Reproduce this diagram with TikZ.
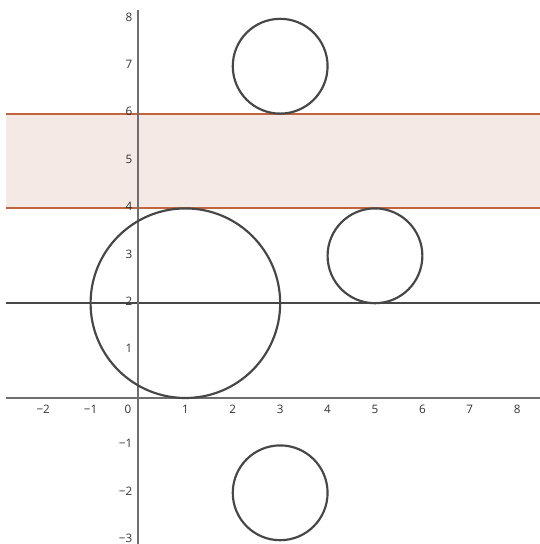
\documentclass[tikz,border=0pt]{standalone}
\usepackage{fontspec}
\setmainfont{Open Sans}
\definecolor{circ}{HTML}{474747}
\definecolor{axisc}{HTML}{6E6E6E}
\definecolor{band}{HTML}{F4E9E4}
\definecolor{bandline}{HTML}{C0653F}
\tikzset{
  circle line/.style={draw=circ, line width=1.3pt},
  axis line/.style={draw=axisc, line width=0.9pt},
  band line/.style={draw=bandline, line width=1.2pt},
  tick label/.style={font=\fontsize{7}{8}\selectfont, text=black!80, inner sep=1pt},
}
\begin{document}
\begin{tikzpicture}
\useasboundingbox (-2.911,-3.080) rectangle (8.481,8.397);
% band
\fill[band] (-2.785,4) rectangle (8.481,6);
\draw[band line] (-2.785,4) -- (8.481,4);
\draw[band line] (-2.785,6) -- (8.481,6);
% line y=2
\draw[circle line, line width=1.1pt] (-2.785,2) -- (8.481,2);
% axes
\draw[axis line] (-2.785,0) -- (8.481,0);
\draw[axis line] (0,8.186) -- (0,-3.080);
% circles
\draw[circle line] (1,2) circle (2);
\draw[circle line] (3,7) circle (1);
\draw[circle line] (5,3) circle (1);
\draw[circle line] (3,-2) circle (1);
% x tick labels
\foreach \x/\t in {-2/−2,-1/−1,1/1,2/2,3/3,4/4,5/5,6/6,7/7,8/8}
  \node[tick label, anchor=north] (xl\x) at (\x,-0.1) {\t};
\node[tick label, anchor=north east] (xl0) at (-0.1,-0.1) {0};
% y tick labels
\foreach \y/\t in {-3/−3,-2/−2,-1/−1,1/1,2/2,3/3,4/4,5/5,6/6,7/7,8/8}
  \node[tick label, anchor=east] (yl\y) at (-0.08,\y+0.04) {\t};
\end{tikzpicture}
\end{document}
